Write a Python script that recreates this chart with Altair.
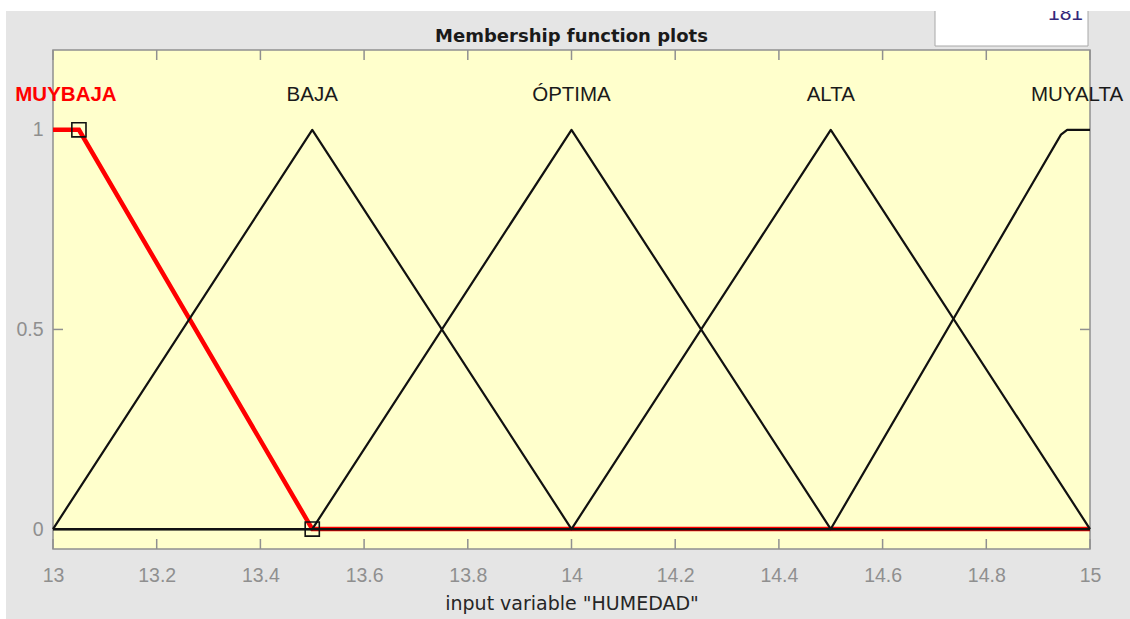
import altair as alt
import pandas as pd

# Membership functions of the input variable HUMEDAD (vertices x, mu)
mf_names = ["MUYBAJA", "BAJA", "ÓPTIMA", "ALTA", "MUYALTA"]
muybaja_x = [13.0, 13.05, 13.5, 15.0]
muybaja_y = [1.0, 1.0, 0.0, 0.0]
baja_x = [13.0, 13.5, 14.0, 15.0]
baja_y = [0.0, 1.0, 0.0, 0.0]
optima_x = [13.0, 13.5, 14.0, 14.5, 15.0]
optima_y = [0.0, 0.0, 1.0, 0.0, 0.0]
alta_x = [13.0, 14.0, 14.5, 15.0]
alta_y = [0.0, 0.0, 1.0, 0.0]
muyalta_x = [13.0, 14.5, 14.944, 14.956, 15.0]
muyalta_y = [0.0, 0.0, 0.988, 1.0, 1.0]

# Label anchors (centre of each function's plateau / peak)
label_x = [13.025, 13.5, 14.0, 14.5, 14.975]
label_y = [1.0, 1.0, 1.0, 1.0, 1.0]

# Edit handles of the selected function
handle_x = [13.05, 13.5]
handle_y = [1.0, 0.0]

x_ticks = [13.0, 13.2, 13.4, 13.6, 13.8, 14.0, 14.2, 14.4, 14.6, 14.8, 15.0]
y_ticks = [0.0, 0.5, 1.0]
selected = "MUYBAJA"
points_text = "181"

W, H = 1037, 499

rows = []
for name, xs, ys in zip(mf_names,
                        [muybaja_x, baja_x, optima_x, alta_x, muyalta_x],
                        [muybaja_y, baja_y, optima_y, alta_y, muyalta_y]):
    for i, (xv, yv) in enumerate(zip(xs, ys)):
        rows.append({"mf": name, "x": xv, "y": yv, "i": i})
lines = pd.DataFrame(rows)
labels = pd.DataFrame({"mf": mf_names, "x": label_x, "y": label_y})
handles = pd.DataFrame({"x": handle_x, "y": handle_y})
xt = pd.DataFrame({"t": x_ticks})
yt = pd.DataFrame({"t": y_ticks})
one = pd.DataFrame({"k": [0]})

FRAME = "#909090"
xs_ = alt.Scale(domain=[13, 15], nice=False, zero=False)
ys_ = alt.Scale(domain=[-0.05, 1.2], nice=False, zero=False)
x_axis = alt.Axis(values=x_ticks, format="~g", domain=False, ticks=False, tickSize=0,
                  grid=False, labelPadding=17, labelFont="Liberation Sans",
                  labelFontSize=19.5, labelColor="#8F8F8F", title='input variable "HUMEDAD"',
                  titleFont="DejaVu Sans", titleFontSize=19, titleFontWeight="normal",
                  titleColor="#262626", titlePadding=10, labelFlush=False)
y_axis = alt.Axis(values=y_ticks, format="~g", domain=False, ticks=False, tickSize=0,
                  grid=False, labelPadding=10, labelFont="Liberation Sans",
                  labelFontSize=19.5, labelColor="#8F8F8F", title=None,
                  labelBaseline="middle")


def X(f):
    return alt.X(f, type="quantitative", scale=xs_, axis=x_axis)


def Y(f):
    return alt.Y(f, type="quantitative", scale=ys_, axis=y_axis)


# Window chrome around the axes
white_box = alt.Chart(one).mark_rect(fill="white", stroke="#A8A8A8", strokeWidth=1).encode(
    x=alt.value(882), x2=alt.value(1035), y=alt.value(-52), y2=alt.value(-4))
box_text = alt.Chart(one).mark_text(align="right", baseline="alphabetic", font="Liberation Sans",
                                    fontSize=21, color="#34287a").encode(
    x=alt.value(1030), y=alt.value(-30), text=alt.value(points_text))
top_strip = alt.Chart(one).mark_rect(fill="white").encode(
    x=alt.value(-53), x2=alt.value(1077), y=alt.value(-50), y2=alt.value(-39))
left_strip = alt.Chart(one).mark_rect(fill="white").encode(
    x=alt.value(-53), x2=alt.value(-47), y=alt.value(-50), y2=alt.value(569))
title = alt.Chart(one).mark_text(align="center", baseline="alphabetic", font="DejaVu Sans",
                                 fontSize=18, fontWeight="bold", color="#1a1a1a").encode(
    x=alt.value(W / 2), y=alt.value(-8), text=alt.value("Membership function plots"))

# Inward ticks on all four sides
tick_style = dict(color=FRAME, strokeWidth=1.5)
bottom_ticks = alt.Chart(xt).mark_rule(**tick_style).encode(
    x=X("t"), y=alt.value(H), y2=alt.value(H - 10))
top_ticks = alt.Chart(xt).mark_rule(**tick_style).encode(
    x=X("t"), y=alt.value(0), y2=alt.value(10))
left_ticks = alt.Chart(yt).mark_rule(**tick_style).encode(
    y=Y("t"), x=alt.value(0), x2=alt.value(10))
right_ticks = alt.Chart(yt).mark_rule(**tick_style).encode(
    y=Y("t"), x=alt.value(W), x2=alt.value(W - 10))

# Membership function curves: selected one in thick red, others black on top
red_line = alt.Chart(lines).transform_filter(alt.datum.mf == selected).mark_line(
    color="#FF0000", strokeWidth=4.5).encode(x=X("x"), y=Y("y"), order="i:Q")
black_lines = alt.Chart(lines).transform_filter(alt.datum.mf != selected).mark_line(
    color="#111111", strokeWidth=2.2, strokeJoin="round").encode(
    x=X("x"), y=Y("y"), detail="mf:N", order="i:Q")
squares = alt.Chart(handles).mark_point(shape="square", filled=False, size=200,
                                        color="#111111", strokeWidth=1.6, opacity=1).encode(
    x=X("x"), y=Y("y"))

sel_label = alt.Chart(labels).transform_filter(alt.datum.mf == selected).mark_text(
    align="center", baseline="alphabetic", dy=-29, font="Liberation Sans", fontSize=20.5,
    fontWeight="bold", color="#FF0000").encode(x=X("x"), y=Y("y"), text="mf:N")
other_labels = alt.Chart(labels).transform_filter(alt.datum.mf != selected).mark_text(
    align="center", baseline="alphabetic", dy=-29, font="Liberation Sans", fontSize=20.5,
    color="#1a1a1a").encode(x=X("x"), y=Y("y"), text="mf:N")

chart = alt.layer(
    white_box, box_text, top_strip, left_strip, title,
    bottom_ticks, top_ticks, left_ticks, right_ticks,
    red_line, black_lines, squares, sel_label, other_labels,
).properties(
    width=W, height=H,
    autosize=alt.AutoSizeParams(type="none"),
    padding={"left": 53, "top": 50, "right": 40, "bottom": 70},
    background="#E5E5E5",
).configure_view(
    fill="#FFFFCC", stroke=FRAME, strokeWidth=1.5,
)

chart.save("out.html", embed_options={"renderer": "svg", "actions": False})
